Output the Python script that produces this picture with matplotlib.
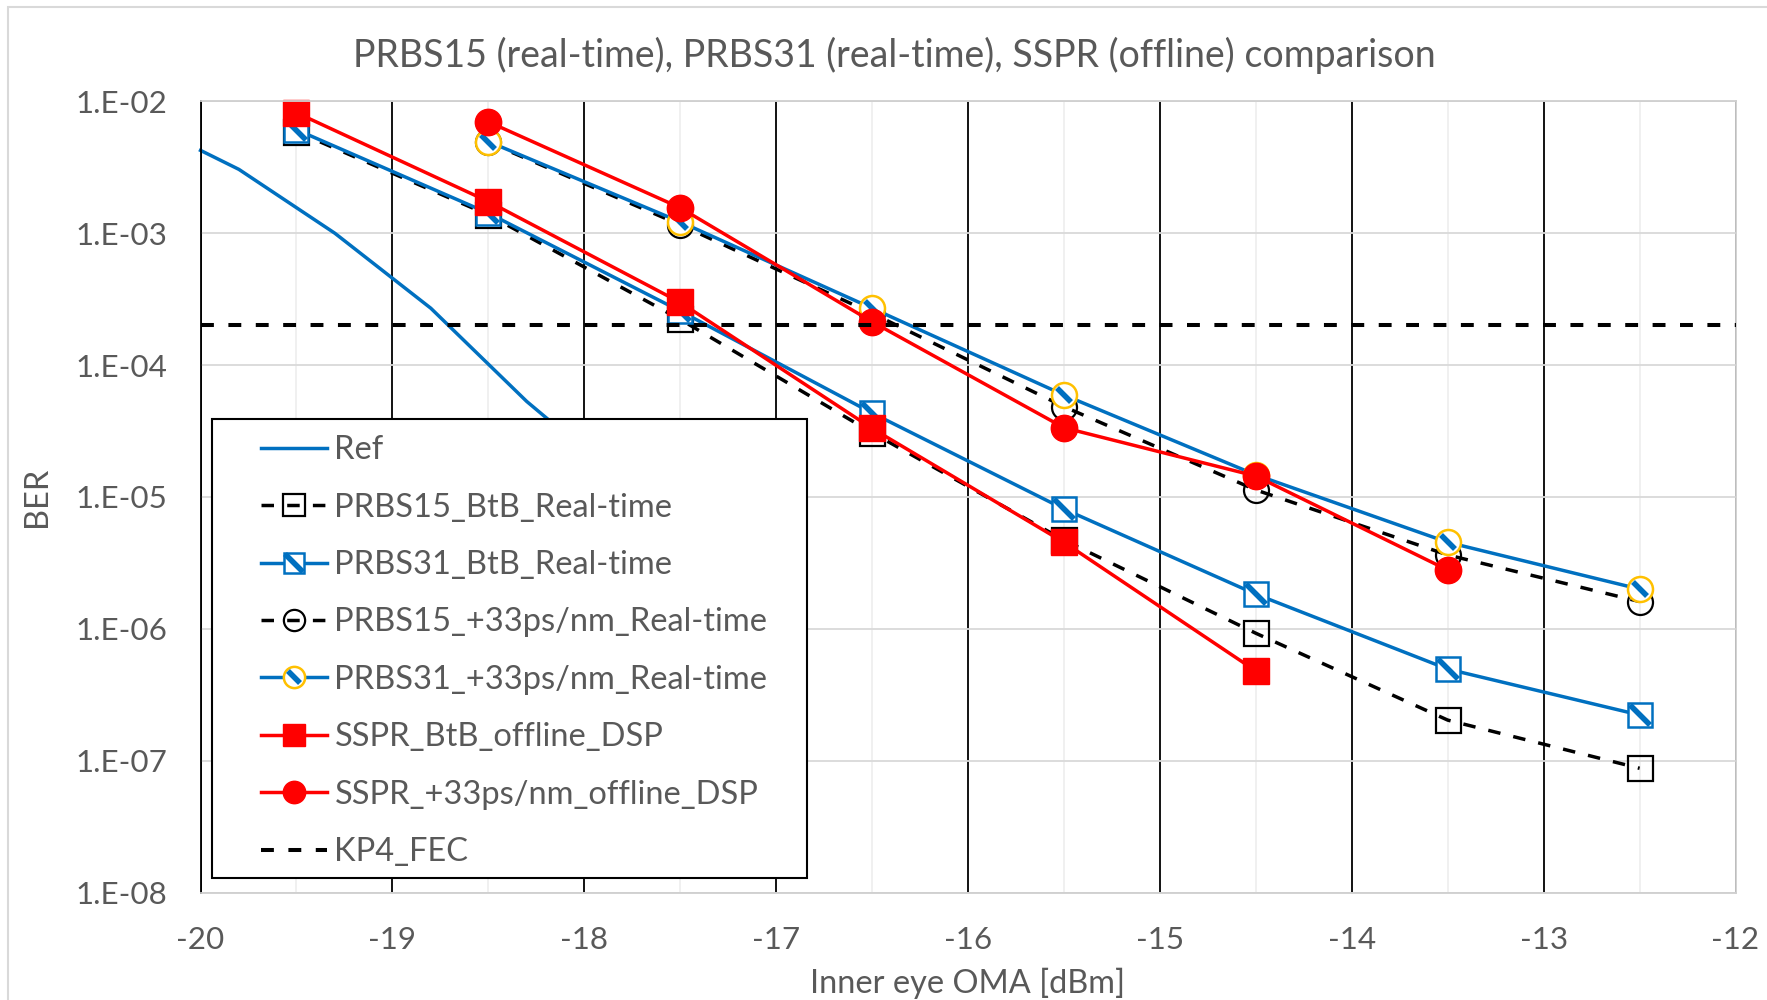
import math
import matplotlib
matplotlib.use("Agg")
import matplotlib.pyplot as plt
from matplotlib.patches import Rectangle
from matplotlib.legend_handler import HandlerTuple
from matplotlib.markers import MarkerStyle
from matplotlib.transforms import Affine2D
from matplotlib.ticker import FixedLocator, FuncFormatter

plt.rcParams['font.family'] = ['Lato', 'DejaVu Sans']

# ---- data ----
oma = [-19.5, -18.5, -17.5, -16.5, -15.5, -14.5, -13.5, -12.5]
oma_33 = [-18.5, -17.5, -16.5, -15.5, -14.5, -13.5, -12.5]
oma_sspr_btb = [-19.5, -18.5, -17.5, -16.5, -15.5, -14.5]
oma_sspr_33 = [-18.5, -17.5, -16.5, -15.5, -14.5, -13.5]

ref_x = [-20.0, -19.8, -19.3, -18.8, -18.3, -17.8]
ref_ber = [4.25e-3, 3.05e-3, 1.0e-3, 2.7e-4, 5.3e-5, 1.3e-5]

prbs15_btb = [5.9e-3, 1.38e-3, 2.22e-4, 3.07e-5, 4.7e-6, 9.25e-7, 2.03e-7, 8.75e-8]
prbs31_btb = [6.1e-3, 1.42e-3, 2.57e-4, 4.33e-5, 8.1e-6, 1.83e-6, 4.95e-7, 2.22e-7]
prbs15_33 = [4.9e-3, 1.16e-3, 2.47e-4, 4.84e-5, 1.13e-5, 3.63e-6, 1.61e-6]
prbs31_33 = [4.96e-3, 1.22e-3, 2.7e-4, 5.93e-5, 1.47e-5, 4.53e-6, 2.0e-6]
sspr_btb = [8.2e-3, 1.74e-3, 2.99e-4, 3.31e-5, 4.53e-6, 4.79e-7]
sspr_33 = [7.0e-3, 1.56e-3, 2.13e-4, 3.35e-5, 1.44e-5, 2.79e-6]

kp4_x = [-20, -12]
kp4_ber = [2e-4, 2e-4]

labels = ["Ref", "PRBS15_BtB_Real-time", "PRBS31_BtB_Real-time",
          "PRBS15_+33ps/nm_Real-time", "PRBS31_+33ps/nm_Real-time",
          "SSPR_BtB_offline_DSP", "SSPR_+33ps/nm_offline_DSP", "KP4_FEC"]

blue = '#0070C0'
red = '#FF0000'
gold = '#FFC000'
grey_txt = '#595959'
# diagonal stripe drawn inside the hatched markers
stripe = MarkerStyle('|', transform=Affine2D().rotate_deg(45))

fig = plt.figure(figsize=(17.67, 10), dpi=100)
ax = fig.add_axes([0.1135, 0.1075, 0.8687, 0.7911])

lw = 2.5
dash = (3.6, 3.8)
ms = 18

l_ref, = ax.plot(ref_x, ref_ber, color=blue, lw=lw, zorder=2.0)
l15b, = ax.plot(oma, prbs15_btb, color='black', lw=lw, dashes=dash, marker='s', ms=ms,
                mfc='none', mec='black', mew=1.6, zorder=2.1)
l31b, = ax.plot(oma, prbs31_btb, color=blue, lw=lw, marker='s', ms=ms - 1,
                mfc='white', mec=blue, mew=1.8, zorder=2.2)
s31b, = ax.plot(oma, prbs31_btb, ls='none', marker=stripe, ms=(ms - 2) * 1.3,
                mec=blue, mew=4.0, zorder=2.25)
l15c, = ax.plot(oma_33, prbs15_33, color='black', lw=lw, dashes=dash, marker='o', ms=ms,
                mfc='none', mec='black', mew=1.6, zorder=2.3)
l31c, = ax.plot(oma_33, prbs31_33, color=blue, lw=lw, marker='o', ms=ms,
                mfc='white', mec=gold, mew=1.8, zorder=2.4)
s31c, = ax.plot(oma_33, prbs31_33, ls='none', marker=stripe, ms=ms - 3,
                mec=blue, mew=4.0, zorder=2.45)
lsb, = ax.plot(oma_sspr_btb, sspr_btb, color=red, lw=lw, marker='s', ms=ms + 1,
               mfc=red, mec=red, zorder=2.5)
lsc, = ax.plot(oma_sspr_33, sspr_33, color=red, lw=lw, marker='o', ms=ms + 1,
               mfc=red, mec=red, zorder=2.6)
lkp, = ax.plot(kp4_x, kp4_ber, color='black', lw=2.9, dashes=(3.2, 3.6), zorder=2.7)

for l in ax.lines:
    l.set_clip_on(False)

ax.set_yscale('log')
ax.set_xlim(-20, -12)
ax.set_ylim(1e-8, 1e-2)

ax.yaxis.set_major_locator(FixedLocator([10.0 ** k for k in range(-8, -1)]))
ax.yaxis.set_minor_locator(FixedLocator([]))
ax.yaxis.set_major_formatter(FuncFormatter(lambda v, p: "1.E-%02d" % round(-math.log10(v))))
ax.xaxis.set_major_locator(FixedLocator(range(-20, -11)))
ax.xaxis.set_minor_locator(FixedLocator([x + 0.5 for x in range(-20, -12)]))
ax.xaxis.set_major_formatter(FuncFormatter(lambda v, p: "%d" % v))

ax.tick_params(axis='both', which='both', length=0, labelsize=22.6, labelcolor=grey_txt)
ax.tick_params(axis='y', pad=24)
ax.tick_params(axis='x', pad=24)

ax.grid(axis='y', which='major', color='#D9D9D9', lw=1.3)
ax.grid(axis='x', which='major', color='black', lw=1.3)
ax.grid(axis='x', which='minor', color='#EFEFEF', lw=1.3)
ax.set_axisbelow(True)

ax.spines['left'].set_color('black')
ax.spines['left'].set_linewidth(1.3)
for s in ['top', 'right', 'bottom']:
    ax.spines[s].set_color('#CFCFCF')
    ax.spines[s].set_linewidth(1.3)

ax.set_xlabel("Inner eye OMA [dBm]", fontsize=23.4, color=grey_txt, va='center')
ax.xaxis.set_label_coords(0.5, -0.115)
ax.set_ylabel("BER", fontsize=23.4, color=grey_txt, va='center')
ax.yaxis.set_label_coords(-0.1065, 0.5)

fig.text(0.506, 0.945, "PRBS15 (real-time), PRBS31 (real-time), SSPR (offline) comparison",
         fontsize=27, color=grey_txt, ha='center', va='center')

# legend box
ax.add_patch(Rectangle((0.0074, 0.0185), 0.3876, 0.5795, transform=ax.transAxes,
                       facecolor='white', edgecolor='black', lw=1.5, zorder=4))
handles = [l_ref, l15b, (l31b, s31b), l15c, (l31c, s31c), lsb, lsc, lkp]
leg = ax.legend(handles, labels, loc='upper left', bbox_to_anchor=(0.0396, 0.578),
                frameon=False, borderpad=0, borderaxespad=0, fontsize=23.5,
                labelcolor=grey_txt, handlelength=2.0, handletextpad=0.24,
                labelspacing=0.84, markerscale=0.85,
                handler_map={tuple: HandlerTuple(ndivide=1, pad=0)})
leg.set_zorder(5)

# outer chart border
fig.patches.append(Rectangle((0.0045, -0.05), 2, 1.043, transform=fig.transFigure,
                             facecolor='none', edgecolor='#D9D9D9', lw=1.5))

fig.savefig("out.png", dpi=100)
